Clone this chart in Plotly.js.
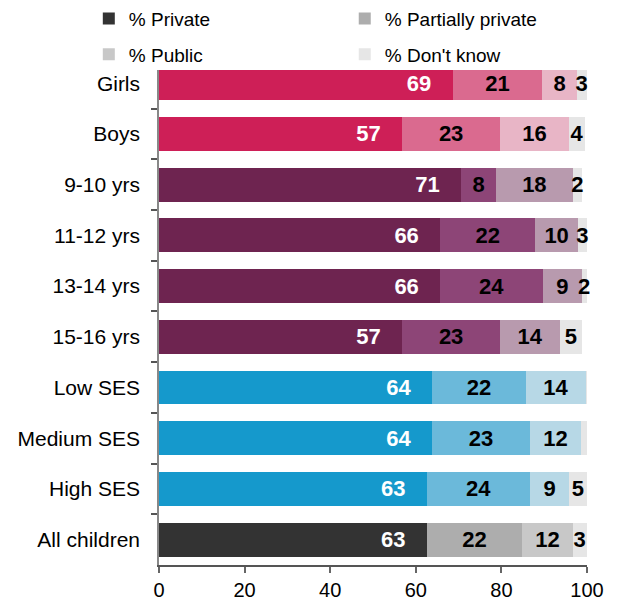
<!DOCTYPE html>
<html>
<head>
<meta charset="utf-8">
<script src="https://cdn.plot.ly/plotly-3.0.1.min.js"></script>
<style>html,body{margin:0;padding:0;background:#fff}#chart{width:617px;height:601px}</style>
</head>
<body>
<div id="chart"></div>
<script>
// ---- data ----
const categories = ["Girls", "Boys", "9-10 yrs", "11-12 yrs", "13-14 yrs", "15-16 yrs", "Low SES", "Medium SES", "High SES", "All children"];
const groupOfCategory = [0, 0, 1, 1, 1, 1, 2, 2, 2, 3]; // 0 gender, 1 age, 2 SES, 3 all
const seriesNames = ["% Private", "% Partially private", "% Public", "% Don't know"];

// bar lengths
const privateValues = [68.6, 56.8, 70.6, 65.7, 65.7, 56.8, 63.8, 63.8, 62.6, 62.6];
const partialValues = [21.0, 22.9, 8.1, 22.2, 24.0, 22.9, 21.9, 22.9, 24.1, 22.2];
const publicValues = [8.0, 16.1, 18.0, 10.0, 9.1, 14.0, 14.1, 11.9, 9.1, 11.9];
const dontKnowValues = [2.3, 3.7, 2.1, 2.0, 1.1, 5.1, 0.4, 1.3, 4.1, 3.2];

// printed labels
const privateLabels = ["69", "57", "71", "66", "66", "57", "64", "64", "63", "63"];
const partialLabels = ["21", "23", "8", "22", "24", "23", "22", "23", "24", "22"];
const publicLabels = ["8", "16", "18", "10", "9", "14", "14", "12", "9", "12"];
const dontKnowLabels = ["3", "4", "2", "3", "2", "5", "", "", "5", "3"];

const xTicks = [0, 20, 40, 60, 80, 100];

// ---- styles ----
const groupColors = [
  ["#CE1F57", "#DA6A8F", "#E8B5C6", "#E6E6E6"],
  ["#6E2450", "#8D4577", "#B89AAE", "#E6E6E6"],
  ["#1599CC", "#6BB9DA", "#B7D8E6", "#E6E6E6"],
  ["#333333", "#ADADAD", "#C8C8C8", "#E6E6E6"]
];
const FONT = "Liberation Sans, Arial, Helvetica, sans-serif";
const PAD = "\u00a0\u00a0\u00a0";

const seriesValues = [privateValues, partialValues, publicValues, dontKnowValues];
const seriesLabels = [privateLabels, partialLabels, publicLabels, dontKnowLabels];

const traces = [];
for (let s = 0; s < 4; s++) {
  for (let g = 0; g < 4; g++) {
    const idx = categories.map((c, i) => i).filter(i => groupOfCategory[i] === g);
    traces.push({
      type: "bar",
      orientation: "h",
      name: seriesNames[s],
      legendgroup: seriesNames[s],
      legend: (s % 2 === 0) ? "legend" : "legend2",
      showlegend: g === 3,
      y: idx.map(i => categories[i]),
      x: idx.map(i => seriesValues[s][i]),
      text: idx.map(i => s === 0 ? seriesLabels[s][i] + PAD : seriesLabels[s][i]),
      textposition: "inside",
      insidetextanchor: s === 0 ? "end" : "middle",
      constraintext: "none",
      textangle: 0,
      cliponaxis: false,
      textfont: {family: FONT, size: 22, weight: "bold", color: s === 0 ? "#FFFFFF" : "#000000"},
      marker: {color: groupColors[g][s], line: {width: 0}},
      hovertemplate: "%{y}: %{text}<extra>" + seriesNames[s] + "</extra>"
    });
  }
}

const legendCommon = {
  orientation: "v",
  font: {family: FONT, size: 19, color: "#000"},
  bgcolor: "rgba(0,0,0,0)",
  borderwidth: 0,
  tracegroupgap: 8,
  xanchor: "left",
  yanchor: "top",
  y: 1.142,
  itemclick: "toggle"
};

const layout = {
  width: 617,
  height: 601,
  margin: {l: 159, r: 30, t: 70, b: 36, autoexpand: false},
  paper_bgcolor: "#fff",
  plot_bgcolor: "#fff",
  barmode: "stack",
  bargap: 0.33,
  font: {family: FONT, size: 19, color: "#000"},
  legend: Object.assign({}, legendCommon, {x: -0.164}),
  legend2: Object.assign({}, legendCommon, {x: 0.434}),
  xaxis: {
    range: [0, 100],
    tickvals: xTicks,
    ticktext: xTicks.map(String),
    ticks: "outside",
    ticklen: 6,
    tickwidth: 1.5,
    tickcolor: "#666",
    showline: true,
    linecolor: "#555",
    linewidth: 1.5,
    showgrid: false,
    zeroline: false,
    ticklabelstandoff: 0,
    tickfont: {family: FONT, size: 20, color: "#000"},
    fixedrange: true
  },
  yaxis: {
    type: "category",
    categoryorder: "array",
    categoryarray: categories,
    range: [9.5, -0.26],
    tickson: "boundaries",
    ticks: "outside",
    ticklen: 6,
    tickwidth: 1.5,
    tickcolor: "#555",
    showline: true,
    linecolor: "#888",
    linewidth: 1.5,
    showgrid: false,
    zeroline: false,
    ticklabelstandoff: 13,
    tickfont: {family: FONT, size: 21, color: "#000"},
    fixedrange: true
  }
};

Plotly.newPlot("chart", traces, layout, {displayModeBar: false, responsive: false});
</script>
</body>
</html>
